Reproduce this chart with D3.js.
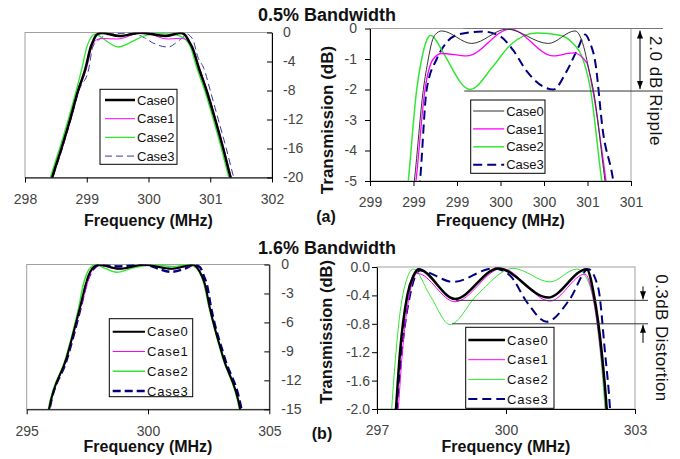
<!DOCTYPE html>
<html>
<head>
<meta charset="utf-8">
<script src="https://cdn.jsdelivr.net/npm/d3@7"></script>
<style>
  body { margin: 0; background: #fff; }
  svg { display: block; font-family: "Liberation Sans", Arial, sans-serif; }
</style>
</head>
<body>
<div id="chart"></div>
<script>
// ---------- data ----------
var caseNames = ["Case0", "Case1", "Case2", "Case3"];

// 0.5% bandwidth filter, [frequency MHz, transmission dB]
var bw05_case0 = [[298.40,-21.2],[298.44,-20],[298.59,-16],[298.73,-12],[298.86,-8],[298.978,-5],[299.065,-2],[299.113,-1],
  [299.146,-0.46],[299.18,-0.2],[299.242,-0.08],[299.532,-0.49],[299.870,-0.02],[300.272,-0.49],[300.529,-0.08],[300.578,-0.25],
  [300.625,-0.75],[300.66,-1.3],[300.706,-2],[300.819,-5],[300.94,-8],[301.08,-12],[301.21,-16],[301.33,-20],[301.37,-21.2]];
var bw05_case1 = [[298.41,-21.2],[298.45,-20],[298.60,-16],[298.74,-12],[298.87,-8],[298.994,-5],[299.081,-2],[299.161,-1],
  [299.242,-0.82],[299.484,-0.9],[299.902,-0.02],[300.320,-0.9],[300.513,-0.8],[300.642,-1.12],[300.70,-2],[300.829,-5],
  [300.95,-8],[301.09,-12],[301.22,-16],[301.34,-20],[301.38,-21.2]];
var bw05_case2 = [[298.37,-21.2],[298.41,-20],[298.56,-16],[298.70,-12],[298.83,-8],[298.920,-5],[299.001,-2],[299.049,-1],
  [299.09,-0.45],[299.136,-0.22],[299.18,-0.35],[299.258,-0.8],[299.516,-2.0],[299.740,-1.23],[299.902,-0.55],[300.160,-0.15],
  [300.385,-0.22],[300.513,-0.5],[300.594,-0.9],[300.674,-1.9],[300.787,-5],[300.91,-8],[301.05,-12],[301.18,-16],[301.30,-20],[301.34,-21.2]];
var bw05_case3 = [[298.415,-21.2],[298.455,-20],[298.605,-16],[298.745,-12],[298.875,-8],[299.033,-5],[299.097,-2],[299.194,-1],
  [299.291,-0.45],[299.419,-0.18],[299.644,-0.1],[299.805,-0.25],[299.934,-0.72],[300.063,-1.4],[300.320,-2.0],[300.449,-1.4],
  [300.561,-0.62],[300.626,-0.2],[300.672,-0.45],[300.722,-1.04],[300.80,-3.4],[300.899,-5],[301.00,-8],[301.13,-12],[301.26,-16],[301.38,-20],[301.42,-21.2]];

// 1.6% bandwidth filter
var bw16_case0 = [[295.85,-16],[295.92,-15],[296.64,-9.7],[297.19,-4.5],[297.442,-2],[297.535,-1.2],[297.705,-0.4],[297.85,-0.12],
  [297.96,-0.03],[298.814,-0.45],[299.821,-0.02],[300.984,-0.43],[301.877,-0.03],[302.047,-0.4],[302.226,-1.2],[302.342,-2],
  [302.55,-4.5],[303.11,-9.7],[303.80,-15],[303.87,-16]];
var bw16_case1 = [[295.87,-16],[295.94,-15],[296.66,-9.7],[297.22,-4.5],[297.496,-2],[297.59,-1.2],[297.752,-0.4],[297.938,-0.09],
  [298.814,-0.49],[299.899,-0.02],[301.023,-0.48],[301.837,-0.1],[302.016,-0.4],[302.202,-1.2],[302.326,-2],[302.54,-4.5],
  [303.10,-9.7],[303.79,-15],[303.86,-16]];
var bw16_case2 = [[295.82,-16],[295.89,-15],[296.61,-9.7],[297.14,-4.5],[297.342,-2],[297.442,-1.2],[297.598,-0.4],[297.844,-0.03],
  [298.233,-0.4],[298.698,-0.81],[299.319,-0.4],[300.170,-0.02],[301.023,-0.21],[301.644,-0.03],[301.877,-0.16],[302.109,-0.76],
  [302.302,-2],[302.52,-4.5],[303.08,-9.7],[303.77,-15],[303.84,-16]];
var bw16_case3 = [[295.87,-16],[295.94,-15],[296.67,-9.7],[297.22,-4.5],[297.458,-2],[297.574,-1.2],[297.767,-0.4],[298.0,-0.05],
  [298.774,-0.21],[299.705,-0.02],[300.093,-0.12],[300.481,-0.49],[300.947,-0.77],[301.488,-0.45],[301.914,-0.03],[302.147,-0.3],
  [302.302,-1.2],[302.419,-2],[302.60,-4.5],[303.16,-9.7],[303.85,-15],[303.92,-16]];

// ticks
var ticksA_x = [298, 299, 300, 301, 302],  ticksA_y = [0, -4, -8, -12, -16, -20];
var ticksB_x = [298.55, 298.97, 299.39, 299.81, 300.23, 300.65, 301.07], ticksB_y = [0, -1, -2, -3, -4, -5];
var ticksC_x = [295, 300, 305],  ticksC_y = [0, -3, -6, -9, -12, -15];
var ticksD_x = [297, 300, 303],  ticksD_y = [0, -0.4, -0.8, -1.2, -1.6, -2.0];

// annotation levels
var ripple05 = [0, -2.05], rippleStart05 = [299.45, 299.46];
var distort16 = [-0.47, -0.8], distortStart16 = [298.83, 298.75];

// ---------- drawing ----------
var width = 680, height = 459;
var font = '"Liberation Sans", Arial, sans-serif';

var svg = d3.select('#chart').append('svg')
  .attr('width', width)
  .attr('height', height);

var defs = svg.append('defs');
defs.append('marker')
  .attr('id', 'ah')
  .attr('viewBox', '0 0 8 6')
  .attr('refX', 8).attr('refY', 3)
  .attr('markerWidth', 8).attr('markerHeight', 6)
  .attr('orient', 'auto-start-reverse')
  .append('path').attr('d', 'M0,0L8,3L0,6Z').attr('fill', '#000');

var panelCount = 0;

function drawPanel(p) {
  panelCount++;
  var x = d3.scaleLinear().domain(p.xd).range([p.l, p.r]);
  var y = d3.scaleLinear().domain(p.yd).range([p.b, p.t]);
  var g = svg.append('g');

  g.append('rect')
    .attr('x', p.l).attr('y', p.t)
    .attr('width', p.r - p.l).attr('height', p.b - p.t)
    .attr('fill', '#fff').attr('stroke', '#a0a0a0');

  var cid = 'clip' + panelCount;
  defs.append('clipPath').attr('id', cid)
    .append('rect').attr('x', p.l).attr('y', p.t).attr('width', p.r - p.l).attr('height', p.b - p.t);

  var line = d3.line()
    .x(function(d) { return x(d[0]); })
    .y(function(d) { return y(d[1]); })
    .curve(d3.curveMonotoneX);

  // Case3 first so the solid lines sit on top like in the original
  var order = [3, 2, 1, 0];
  order.forEach(function(i) {
    var s = p.styles[i];
    g.append('path')
      .attr('clip-path', 'url(#' + cid + ')')
      .attr('d', line(p.series[i]))
      .attr('fill', 'none')
      .attr('stroke', s.c)
      .attr('stroke-width', s.w)
      .attr('stroke-dasharray', s.d || null)
      .attr('stroke-linejoin', 'round');
  });

  // x axis
  var xa = g.append('g')
    .attr('transform', 'translate(0,' + p.b + ')')
    .call(d3.axisBottom(x).tickValues(p.xt).tickSizeInner(5).tickSizeOuter(0).tickPadding(11.5)
      .tickFormat(function(d) { return d.toFixed(0); }));

  // y axis, left or right
  var ya;
  if (p.yside == 'right') {
    ya = g.append('g')
      .attr('transform', 'translate(' + p.r + ',0)')
      .call(d3.axisRight(y).tickValues(p.yt).tickSizeInner(-5).tickSizeOuter(0).tickPadding(p.ypad)
        .tickFormat(p.yfmt));
  } else {
    ya = g.append('g')
      .attr('transform', 'translate(' + p.l + ',0)')
      .call(d3.axisLeft(y).tickValues(p.yt).tickSizeInner(5).tickSizeOuter(0).tickPadding(p.ypad)
        .tickFormat(p.yfmt));
  }
  [xa, ya].forEach(function(a) {
    a.attr('font-family', font).attr('font-size', 14);
    a.select('.domain').attr('stroke', '#000');
    a.selectAll('.tick line').attr('stroke', '#000');
    a.selectAll('.tick text').attr('fill', '#444');
  });

  // legend
  var L = p.legend;
  var lg = g.append('g');
  lg.append('rect')
    .attr('x', L.x).attr('y', L.y).attr('width', L.w).attr('height', L.h)
    .attr('fill', '#fff').attr('stroke', '#000').attr('stroke-width', 1);
  caseNames.forEach(function(name, i) {
    var s = p.styles[i];
    var ry = L.y + L.first + i * L.step;
    lg.append('line')
      .attr('x1', L.x + L.s0).attr('x2', L.x + L.s1)
      .attr('y1', ry).attr('y2', ry)
      .attr('stroke', s.c).attr('stroke-width', s.w)
      .attr('stroke-dasharray', s.d || null);
    lg.append('text')
      .attr('x', L.x + L.s1 + 2).attr('y', ry).attr('dy', '0.36em')
      .attr('font-size', 13).attr('letter-spacing', L.ls)
      .attr('fill', '#111')
      .text(name);
  });

  return {g: g, x: x, y: y};
}

var intFmt = function(d) { return String(d); };

var pA = drawPanel({
  l: 25, r: 272, t: 32.5, b: 177.5, xd: [298, 302], yd: [-20, 0],
  xt: ticksA_x, yt: ticksA_y, yside: 'right', ypad: 11, yfmt: intFmt,
  series: [bw05_case0, bw05_case1, bw05_case2, bw05_case3],
  styles: [{c: '#000', w: 2.5}, {c: '#ff00ff', w: 1}, {c: '#33e633', w: 1.3}, {c: '#3a3a9a', w: 1, d: '7,4'}],
  legend: {x: 100, y: 89.3, w: 77, h: 75, first: 10.7, step: 18.7, s0: 5, s1: 35, ls: 0}
});

var pB = drawPanel({
  l: 370, r: 631, t: 28.5, b: 181, xd: [298.55, 301.07], yd: [-5, 0],
  xt: ticksB_x, yt: ticksB_y, yside: 'left', ypad: 8, yfmt: intFmt,
  series: [bw05_case0, bw05_case1, bw05_case2, bw05_case3],
  styles: [{c: '#333', w: 1}, {c: '#ff00ff', w: 1.3}, {c: '#33e633', w: 1.5}, {c: '#000080', w: 2, d: '9,5'}],
  legend: {x: 470.7, y: 100, w: 74.3, h: 73.3, first: 11, step: 17.9, s0: 2.5, s1: 33.5, ls: 0}
});

var pC = drawPanel({
  l: 26.7, r: 269.3, t: 264.5, b: 409.3, xd: [295, 305], yd: [-15, 0],
  xt: ticksC_x, yt: ticksC_y, yside: 'right', ypad: 12, yfmt: intFmt,
  series: [bw16_case0, bw16_case1, bw16_case2, bw16_case3],
  styles: [{c: '#000', w: 2}, {c: '#ff00ff', w: 1}, {c: '#33e633', w: 1.5}, {c: '#000080', w: 2.5, d: '8,4'}],
  legend: {x: 109.3, y: 318.7, w: 83.4, h: 78, first: 13, step: 19.8, s0: 3.4, s1: 35.7, ls: 0.8}
});

var pD = drawPanel({
  l: 377, r: 635, t: 267, b: 409, xd: [297, 303], yd: [-2, 0],
  xt: ticksD_x, yt: ticksD_y, yside: 'left', ypad: 2,
  yfmt: function(d) { return d.toFixed(1); },
  series: [bw16_case0, bw16_case1, bw16_case2, bw16_case3],
  styles: [{c: '#000', w: 2.5}, {c: '#ff00ff', w: 1}, {c: '#33e633', w: 1}, {c: '#000080', w: 2, d: '9,5'}],
  legend: {x: 465.7, y: 327.3, w: 88.3, h: 81, first: 12.7, step: 19.7, s0: 2.6, s1: 39.3, ls: 0.8}
});

// ---------- annotations ----------
// (a) 2.0 dB ripple
var bRight = pB.x.range()[1];
ripple05.forEach(function(v, i) {
  svg.append('line')
    .attr('x1', pB.x(rippleStart05[i])).attr('x2', bRight + 32)
    .attr('y1', pB.y(v)).attr('y2', pB.y(v))
    .attr('stroke', i == 0 ? '#777' : '#333').attr('stroke-width', 1);
});
svg.append('line')
  .attr('x1', bRight + 9).attr('x2', bRight + 9)
  .attr('y1', pB.y(ripple05[0]) + 2).attr('y2', pB.y(ripple05[1]) - 2)
  .attr('stroke', '#000').attr('stroke-width', 1)
  .attr('marker-start', 'url(#ah)').attr('marker-end', 'url(#ah)');
svg.append('text')
  .attr('transform', 'translate(' + (bRight + 19) + ',' + pB.y(ripple05[1]) + ') rotate(90)')
  .attr('text-anchor', 'middle').attr('font-size', 17).attr('letter-spacing', 0.6)
  .attr('fill', '#111')
  .text('2.0 dB Ripple');

// (b) 0.3 dB distortion
var dRight = pD.x.range()[1];
distort16.forEach(function(v, i) {
  svg.append('line')
    .attr('x1', pD.x(distortStart16[i])).attr('x2', dRight + 13)
    .attr('y1', pD.y(v)).attr('y2', pD.y(v))
    .attr('stroke', '#333').attr('stroke-width', 1);
});
svg.append('line')
  .attr('x1', dRight + 8).attr('x2', dRight + 8)
  .attr('y1', pD.y(distort16[0]) - 14).attr('y2', pD.y(distort16[0]) - 1)
  .attr('stroke', '#000').attr('marker-end', 'url(#ah)');
svg.append('line')
  .attr('x1', dRight + 8).attr('x2', dRight + 8)
  .attr('y1', pD.y(distort16[1]) + 19).attr('y2', pD.y(distort16[1]) + 1)
  .attr('stroke', '#000').attr('marker-end', 'url(#ah)');
svg.append('text')
  .attr('transform', 'translate(' + (dRight + 21) + ',' + ((pD.y.range()[0] + pD.y.range()[1]) / 2) + ') rotate(90)')
  .attr('text-anchor', 'middle').attr('font-size', 17).attr('letter-spacing', 0.4)
  .attr('fill', '#111')
  .text('0.3dB Distortion');

// ---------- titles ----------
function label(txt, xx, yy, size, rot) {
  var t = svg.append('text')
    .attr('text-anchor', 'middle')
    .attr('font-weight', 'bold')
    .attr('font-size', size)
    .attr('fill', '#111')
    .text(txt);
  if (rot) t.attr('transform', 'translate(' + xx + ',' + yy + ') rotate(' + rot + ')');
  else t.attr('x', xx).attr('y', yy);
  return t;
}

label('0.5% Bandwidth', 327, 20.5, 18);
label('1.6% Bandwidth', 327, 253.5, 18);

label('Frequency (MHz)', (pA.x.range()[0] + pA.x.range()[1]) / 2, 225.5, 16);
label('Frequency (MHz)', (pB.x.range()[0] + pB.x.range()[1]) / 2, 225.5, 16);
label('Frequency (MHz)', (pC.x.range()[0] + pC.x.range()[1]) / 2, 452, 16);
label('Frequency (MHz)', (pD.x.range()[0] + pD.x.range()[1]) / 2, 452, 16);

label('Transmission (dB)', 333, 120, 17, -90);
label('Transmission (dB)', 332, 332, 16.5, -90);

label('(a)', 326, 222, 16);
label('(b)', 322, 439, 16);
</script>
</body>
</html>
